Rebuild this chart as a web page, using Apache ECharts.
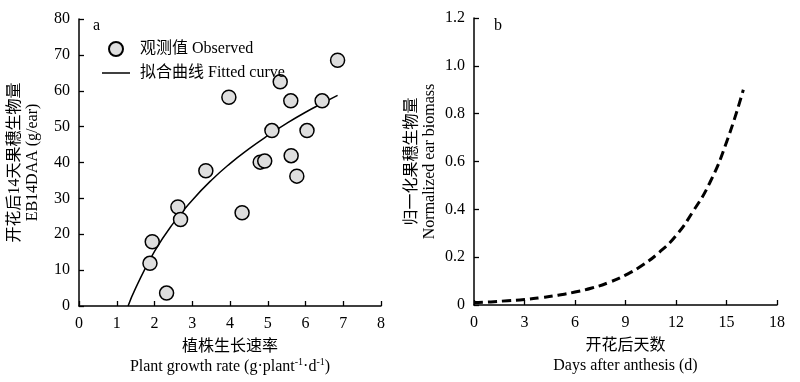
<!DOCTYPE html>
<html>
<head>
<meta charset="utf-8">
<script src="https://cdn.jsdelivr.net/npm/echarts@6/dist/echarts.min.js"></script>
<style>html,body{margin:0;padding:0;background:#fff}#c{width:800px;height:382px}</style>
</head>
<body>
<div id="c"></div>
<script>
// Panel a: observed points
var obsX = [1.88, 1.94, 2.32, 2.62, 2.69, 3.36, 3.97, 4.32, 4.80, 4.92, 5.11, 5.33, 5.61, 5.62, 5.77, 6.04, 6.44, 6.85];
var obsY = [11.9, 17.9, 3.6, 27.6, 24.1, 37.7, 58.2, 26.0, 40.1, 40.4, 48.9, 62.5, 57.2, 41.9, 36.2, 48.9, 57.2, 68.5];
// Panel a: fitted curve
var fitX = [1.3, 1.5, 2.0, 2.5, 3.0, 3.5, 4.0, 4.5, 5.0, 5.5, 6.0, 6.5, 6.85];
var fitY = [0, 5.0, 15.2, 23.1, 29.5, 35.0, 39.7, 43.8, 47.5, 50.9, 54.0, 56.8, 58.7];
// Panel b: normalized ear biomass
var days = [0, 1, 2, 3, 4, 5, 6, 7, 8, 9, 10, 11, 12, 13, 14, 15, 16];
var biomass = [0.010, 0.013, 0.018, 0.023, 0.031, 0.041, 0.054, 0.071, 0.094, 0.125, 0.166, 0.22, 0.29, 0.39, 0.51, 0.68, 0.90];

var FONT = "'Liberation Serif', 'Noto Sans CJK SC', serif";
var FS = 16;
var chart = echarts.init(document.getElementById('c'));
function zip(a, b) { return a.map(function (v, i) { return [v, b[i]]; }); }

var axisCommon = {
  axisLine: { show: true, onZero: false, lineStyle: { color: '#000', width: 1.5 } },
  axisTick: { show: true, inside: true, length: 5, lineStyle: { color: '#000', width: 1.3 } },
  splitLine: { show: false },
  axisLabel: { color: '#000', fontFamily: FONT, fontSize: FS, margin: 10 }
};
function ax(extra) { return Object.assign({}, JSON.parse(JSON.stringify(axisCommon)), extra); }

var richName = {
  zh: { fontFamily: FONT, fontSize: FS, color: '#000', lineHeight: 20 },
  en: { fontFamily: FONT, fontSize: FS, color: '#000', lineHeight: 20 },
  sup: { fontFamily: FONT, fontSize: 10, color: '#000', lineHeight: 20, verticalAlign: 'top', padding: [0, 0, 8, 0] }
};
var richY = {
  zh: { fontFamily: FONT, fontSize: FS, color: '#000', lineHeight: 18 },
  en: { fontFamily: FONT, fontSize: FS, color: '#000', lineHeight: 18 }
};

chart.setOption({
  animation: false,
  grid: [
    { left: 79, right: 419, top: 19, bottom: 76 },
    { left: 474, right: 23, top: 18, bottom: 77 }
  ],
  xAxis: [
    ax({ gridIndex: 0, type: 'value', min: 0, max: 8, interval: 1,
      name: '{zh|植株生长速率}\n{en|Plant growth rate (g·plant}{sup|-1}{en|·d}{sup|-1}{en|)}',
      nameLocation: 'middle', nameGap: 30,
      nameTextStyle: { rich: richName, lineHeight: 20 } }),
    ax({ gridIndex: 1, type: 'value', min: 0, max: 18, interval: 3,
      name: '{zh|开花后天数}\n{en|Days after anthesis (d)}',
      nameLocation: 'middle', nameGap: 31,
      nameTextStyle: { rich: richName, lineHeight: 20 } })
  ],
  yAxis: [
    ax({ gridIndex: 0, type: 'value', min: 0, max: 80, interval: 10,
      axisLabel: { color: '#000', fontFamily: FONT, fontSize: FS, margin: 9 },
      name: '{zh|开花后14天果穗生物量}\n{en|EB14DAA (g/ear)}',
      nameLocation: 'middle', nameGap: 37, nameRotate: 90,
      nameTextStyle: { rich: richY } }),
    ax({ gridIndex: 1, type: 'value', min: 0, max: 1.2, interval: 0.2,
      axisLabel: { color: '#000', fontFamily: FONT, fontSize: FS, margin: 9, formatter: function (v) { return v === 0 ? '0' : v.toFixed(1); } },
      name: '{zh|归一化果穗生物量}\n{en|Normalized ear biomass}',
      nameLocation: 'middle', nameGap: 35, nameRotate: 90,
      nameTextStyle: { rich: richY } })
  ],
  legend: {
    left: 97, top: 36, orient: 'vertical', itemWidth: 28, itemHeight: 14, itemGap: 8,
    textStyle: { fontFamily: FONT, fontSize: FS, color: '#000', padding: [0, 0, 0, 5] },
    data: [
      { name: '观测值 Observed' },
      { name: '拟合曲线 Fitted curve', icon: 'path://M0,0L28,0L28,1.5L0,1.5Z', itemStyle: { color: '#000' } }
    ]
  },
  graphic: [
    { type: 'text', left: 93, top: 18, style: { text: 'a', font: "16px 'Liberation Serif'", fill: '#000' } },
    { type: 'text', left: 494, top: 18, style: { text: 'b', font: "16px 'Liberation Serif'", fill: '#000' } }
  ],
  series: [
    { name: '拟合曲线 Fitted curve', type: 'line', xAxisIndex: 0, yAxisIndex: 0, data: zip(fitX, fitY),
      smooth: true, symbol: 'none', lineStyle: { color: '#000', width: 1.5 }, itemStyle: { color: '#000' }, z: 2 },
    { name: '观测值 Observed', type: 'scatter', xAxisIndex: 0, yAxisIndex: 0, data: zip(obsX, obsY),
      symbol: 'circle', symbolSize: 14,
      itemStyle: { color: '#dedede', borderColor: '#000', borderWidth: 1.5, opacity: 1 }, z: 3 },
    { name: 'biomass', type: 'line', xAxisIndex: 1, yAxisIndex: 1, data: zip(days, biomass),
      smooth: true, symbol: 'none', lineStyle: { color: '#000', width: 3, type: [9, 5] } }
  ]
});
</script>
</body>
</html>
